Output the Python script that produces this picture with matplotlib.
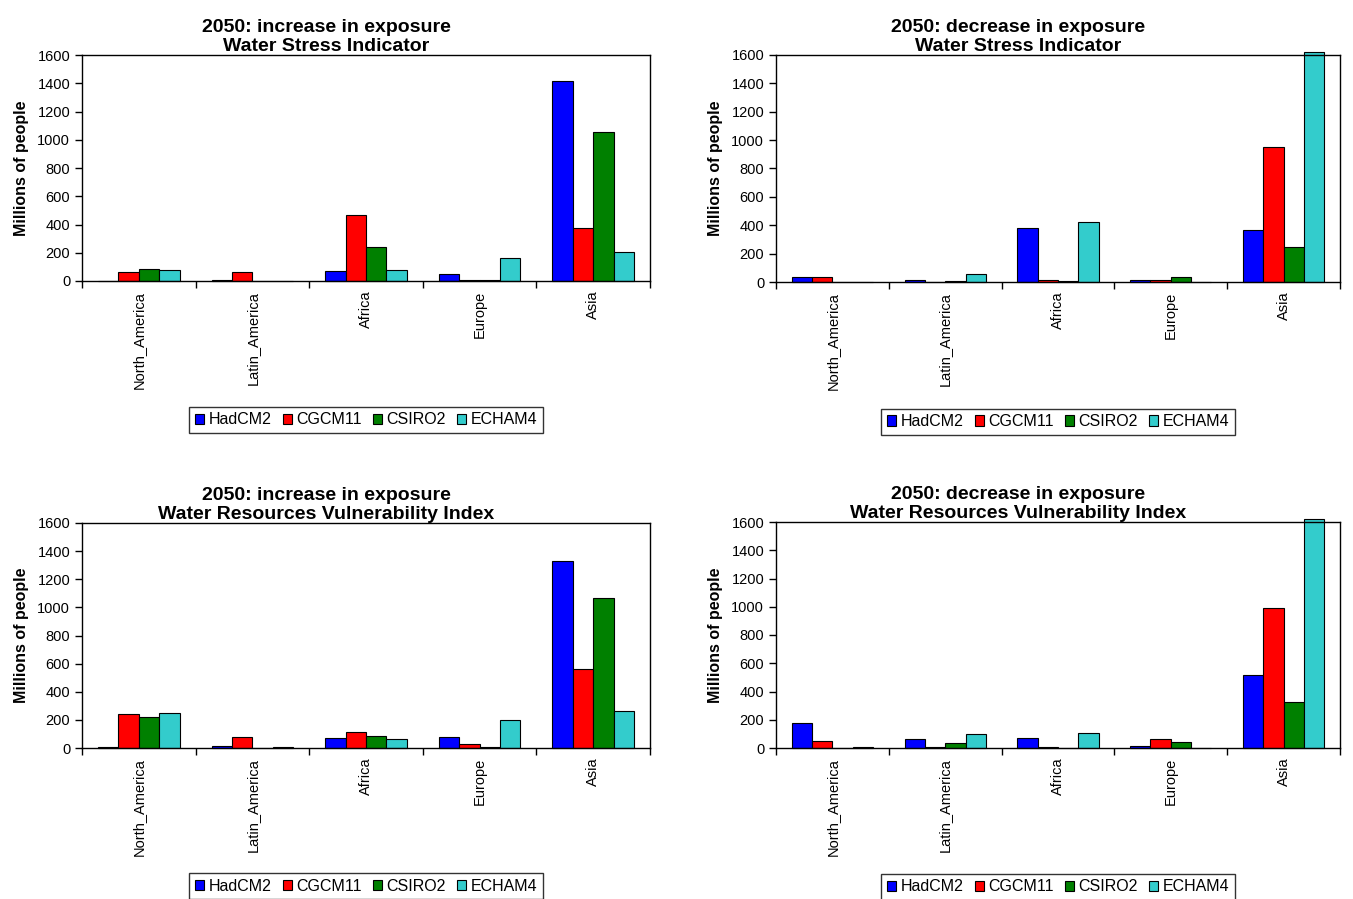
import matplotlib
matplotlib.use("Agg")
import matplotlib.pyplot as plt
import numpy as np

plt.rcParams['font.family'] = ['Liberation Sans', 'DejaVu Sans']

# Regions and climate models
regions = ['North_America', 'Latin_America', 'Africa', 'Europe', 'Asia']
models = ['HadCM2', 'CGCM11', 'CSIRO2', 'ECHAM4']
model_colors = ['#0000FF', '#FF0000', '#008000', '#33CCCC']

# Millions of people, one list per model (order follows regions)
wsi_increase = {
    'HadCM2': [0, 8, 71, 52, 1413],
    'CGCM11': [62, 62, 469, 5, 377],
    'CSIRO2': [88, 0, 242, 5, 1057],
    'ECHAM4': [80, 0, 80, 161, 206],
}
wsi_decrease = {
    'HadCM2': [38, 15, 379, 15, 369],
    'CGCM11': [38, 0, 15, 15, 953],
    'CSIRO2': [0, 8, 8, 38, 245],
    'ECHAM4': [0, 54, 424, 0, 1620],
}
wrvi_increase = {
    'HadCM2': [10, 17, 69, 81, 1327],
    'CGCM11': [245, 81, 117, 26, 561],
    'CSIRO2': [223, 0, 88, 10, 1070],
    'ECHAM4': [252, 10, 62, 200, 262],
}
wrvi_decrease = {
    'HadCM2': [174, 64, 71, 16, 516],
    'CGCM11': [47, 9, 9, 61, 990],
    'CSIRO2': [0, 35, 0, 45, 323],
    'ECHAM4': [9, 99, 108, 0, 1620],
}

panels = [
    ("2050: increase in exposure\nWater Stress Indicator", wsi_increase, [82, 55, 650, 281]),
    ("2050: decrease in exposure\nWater Stress Indicator", wsi_decrease, [776, 55, 1340, 282]),
    ("2050: increase in exposure\nWater Resources Vulnerability Index", wrvi_increase, [82, 523, 650, 748]),
    ("2050: decrease in exposure\nWater Resources Vulnerability Index", wrvi_decrease, [776, 522, 1340, 748]),
]

W, H = 1353, 899
fig = plt.figure(figsize=(W / 100, H / 100), dpi=100)

bar_w = 0.18
x = np.arange(len(regions))

for title, data, (x0, y0, x1, y1) in panels:
    ax = fig.add_axes([x0 / W, (H - y1) / H, (x1 - x0) / W, (y1 - y0) / H])
    for i, (m, c) in enumerate(zip(models, model_colors)):
        offs = (i - 1.5) * bar_w
        ax.bar(x + offs, data[m], width=bar_w, color=c, edgecolor='black',
               linewidth=0.8, label=m, clip_on=False)
    ax.set_xlim(-0.5, len(regions) - 0.5)
    ax.set_ylim(0, 1600)
    ax.set_yticks(np.arange(0, 1601, 200))
    ax.tick_params(axis='y', direction='out', length=5, labelsize=10.5, width=1)
    # region boundaries as tick marks, names centred under each group
    ax.set_xticks(np.arange(-0.5, len(regions), 1.0))
    ax.set_xticklabels([])
    ax.tick_params(axis='x', which='major', direction='out', length=5, width=1)
    ax.set_xticks(x, minor=True)
    ax.set_xticklabels(regions, minor=True, rotation=90, fontsize=10.5, va='top')
    ax.tick_params(axis='x', which='minor', length=0, pad=7)
    for s in ax.spines.values():
        s.set_linewidth(1.0)
        s.set_color('black')
    ax.set_ylabel("Millions of people", fontsize=11.5, fontweight='bold', labelpad=6)
    # title centred over the whole chart area (axis labels included)
    ax.set_title(title, fontsize=14, fontweight='bold', pad=2, linespacing=1.15,
                 x=0.43)
    leg = ax.legend(loc='center', bbox_to_anchor=(0.5, -0.615), ncol=4,
                    fontsize=11.5, frameon=True, fancybox=False, edgecolor='black',
                    handlelength=0.6, handleheight=0.6, handletextpad=0.25,
                    columnspacing=0.7, borderpad=0.35, borderaxespad=0)
    leg.get_frame().set_linewidth(1.0)

fig.savefig("out.png", dpi=100)
